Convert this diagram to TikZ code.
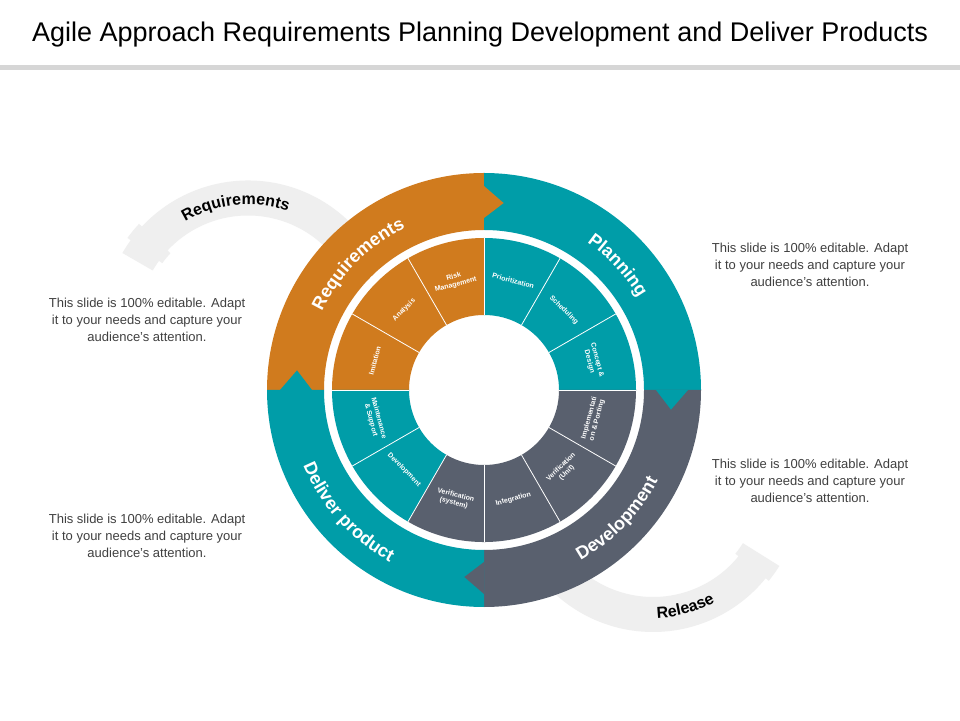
\documentclass[tikz,border=0pt]{standalone}
\usepackage{fontspec}
\setmainfont{Liberation Sans}
\usetikzlibrary{decorations.text}
\definecolor{cOr}{RGB}{208,123,30}
\definecolor{cTe}{RGB}{0,157,168}
\definecolor{cGr}{RGB}{89,96,110}
\definecolor{cLt}{RGB}{239,239,239}
\definecolor{cTx}{RGB}{64,64,64}
\newcommand\annsec[5]{\fill[#1] (#2:#5) arc[start angle=#2,end angle=#3,radius=#5] -- (#3:#4) arc[start angle=#3,end angle=#2,radius=#4] -- cycle;}
\tikzset{
 body/.style={text=cTx,font=\fontsize{13}{17}\selectfont,align=center},
 seg/.style={text=white,font=\fontsize{7}{8}\selectfont\bfseries,align=center,inner sep=0pt},
}
\begin{document}
\begin{tikzpicture}[x=1pt,y=1pt]
\useasboundingbox (0,0) rectangle (960,720);
\fill[white] (0,0) rectangle (960,720);
\node (title) at (480,685) {\fontsize{27}{31}\selectfont Agile Approach Requirements Planning Development and Deliver Products};
\fill[black!16] (0,650) rectangle (960,655);
% light arcs
\begin{scope}[shift={(248,394.5)}]
 \fill[cLt] (150:145pt) arc[start angle=150,end angle=30,radius=145pt] -- (30:110pt) arc[start angle=30,end angle=150,radius=110pt] -- cycle;
 \fill[cLt] (144:149pt) arc[start angle=144,end angle=137,radius=149pt] -- (137:106pt) arc[start angle=137,end angle=144,radius=106pt] -- cycle;
 \path[decorate,decoration={text along path,text align=center,text={|\fontsize{16}{16}\selectfont\bfseries|Requirements}}] (152:121pt) arc[start angle=152,end angle=40,radius=121pt];
\end{scope}
\begin{scope}[shift={(653,233)}]
 \fill[cLt] (215:145pt) arc[start angle=215,end angle=322,radius=145pt] -- (322:110pt) arc[start angle=322,end angle=215,radius=110pt] -- cycle;
 \fill[cLt] (321:149pt) arc[start angle=321,end angle=328,radius=149pt] -- (328:106pt) arc[start angle=328,end angle=321,radius=106pt] -- cycle;
 \path[decorate,decoration={text along path,text align=center,text={|\fontsize{16}{16}\selectfont\bfseries|Release}}] (245:131pt) arc[start angle=245,end angle=325,radius=131pt];
\end{scope}
% wheel
\begin{scope}[shift={(484,330)}]
 \annsec{cOr}{90}{180}{160pt}{217pt}
 \annsec{cTe}{0}{90}{160pt}{217pt}
 \annsec{cGr}{-90}{0}{160pt}{217pt}
 \annsec{cTe}{180}{270}{160pt}{217pt}
 \fill[cOr] (90:172pt) -- (84:188pt) -- (90:204pt) -- cycle;
 \fill[cTe] (0:172pt) -- (-6:188pt) -- (0:204pt) -- cycle;
 \fill[cGr] (270:172pt) -- (264:188pt) -- (270:204pt) -- cycle;
 \fill[cTe] (180:172pt) -- (174:188pt) -- (180:204pt) -- cycle;
 \annsec{cTe}{0}{90}{75pt}{152pt}
 \annsec{cOr}{90}{180}{75pt}{152pt}
 \annsec{cTe}{180}{240}{75pt}{152pt}
 \annsec{cGr}{240}{360}{75pt}{152pt}
 \foreach \a in {0,30,...,330} \draw[white,line width=0.8pt] (\a:75pt) -- (\a:152pt);
 \node[seg,rotate=-15] (s1) at (75:113pt) {Prioritization};
 \node[seg,rotate=-45] (s2) at (45:113pt) {Scheduling};
 \node[seg,rotate=-75] (s3) at (15:113pt) {Concept \&\\Design};
 \node[seg,rotate=75] (s4) at (345:113pt) {Implementati\\on \& Porting};
 \node[seg,rotate=45] (s5) at (315:113pt) {Verification\\(Unit)};
 \node[seg,rotate=15] (s6) at (285:113pt) {Integration};
 \node[seg,rotate=-15] (s7) at (255:113pt) {Verification\\(system)};
 \node[seg,rotate=-45] (s8) at (225:113pt) {Development};
 \node[seg,rotate=-75] (s9) at (195:113pt) {Maintenance\\\& Support};
 \node[seg,rotate=75] (s10) at (165:113pt) {Imitation};
 \node[seg,rotate=45] (s11) at (135:113pt) {Analysis};
 \node[seg,rotate=15] (s12) at (105:113pt) {Risk\\Management};
 \path[decorate,decoration={text along path,text align=center,text color=white,text={|\fontsize{18}{18}\selectfont\bfseries|Requirements}}] (175:180pt) arc[start angle=175,end angle=95,radius=180pt];
 \path[decorate,decoration={text along path,text align=center,text color=white,text={|\fontsize{18}{18}\selectfont\bfseries|Planning}}] (83:180pt) arc[start angle=83,end angle=3,radius=180pt];
 \path[decorate,decoration={text along path,text align=center,text color=white,text={|\fontsize{18}{18}\selectfont\bfseries|Development}}] (276:196pt) arc[start angle=276,end angle=356,radius=196pt];
 \path[decorate,decoration={text along path,text align=center,text color=white,text={|\fontsize{18}{18}\selectfont\bfseries|Deliver product}}] (182:196pt) arc[start angle=182,end angle=262,radius=196pt];
\end{scope}
\node[body] (t1) at (147,400) {This slide is 100\% editable. Adapt\\it to your needs and capture your\\audience's attention.};
\node[body] (t2) at (810,455) {This slide is 100\% editable. Adapt\\it to your needs and capture your\\audience's attention.};
\node[body] (t3) at (810,239) {This slide is 100\% editable. Adapt\\it to your needs and capture your\\audience's attention.};
\node[body] (t4) at (147,184) {This slide is 100\% editable. Adapt\\it to your needs and capture your\\audience's attention.};
\end{tikzpicture}
\end{document}
